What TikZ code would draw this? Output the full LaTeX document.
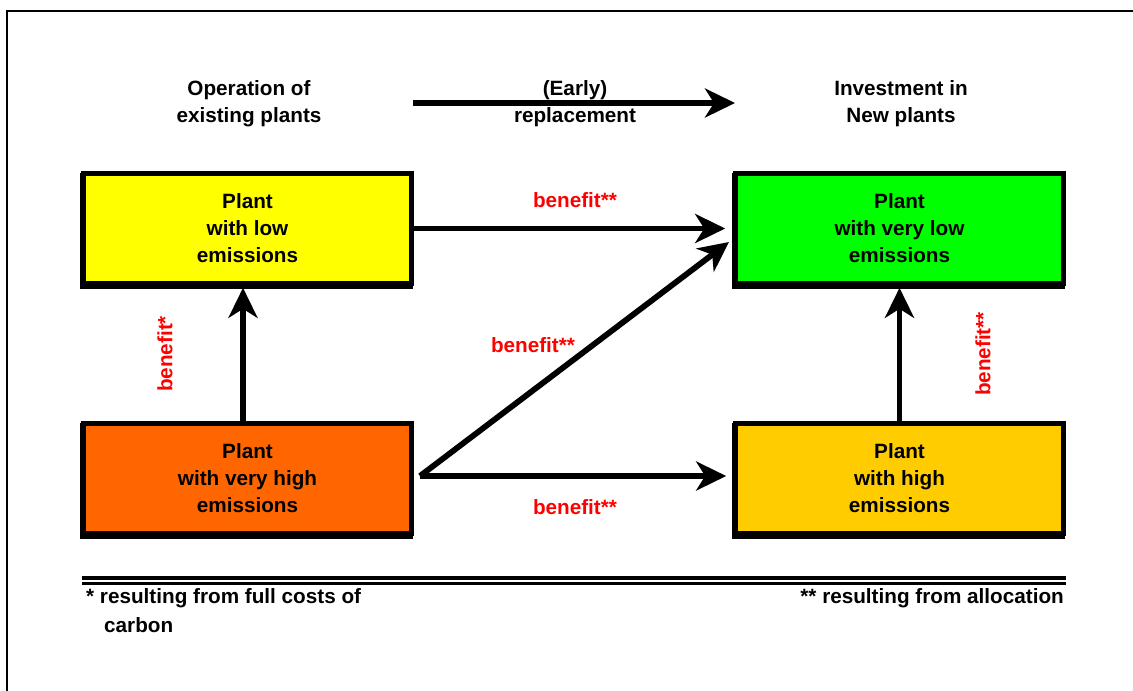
\documentclass[tikz,border=0pt]{standalone}
\usepackage{fontspec}
\setmainfont{Liberation Sans}
\usetikzlibrary{arrows.meta}
\definecolor{cyel}{HTML}{FFFF00}
\definecolor{corg}{HTML}{FF6600}
\definecolor{cgrn}{HTML}{00FF00}
\definecolor{cgld}{HTML}{FFCC00}
\definecolor{cred}{HTML}{FF0000}
\newcommand{\txtfont}{\bfseries\fontsize{20.7}{27}\selectfont}
\begin{document}
\begin{tikzpicture}[x=1pt,y=-1pt,
  plantbox/.style={draw=black,line width=4.6pt,minimum width=328pt,minimum height=110pt,inner sep=0pt,align=center,font=\txtfont},
  conn/.style={line width=5.8pt,-{Stealth[length=30pt,width=29pt,inset=9pt]}},
  lbl/.style={text=cred,font=\txtfont,inner sep=0pt},
  plain/.style={font=\txtfont,inner sep=0pt,align=center},
  frameline/.style={line width=2.6pt},
  shadowbox/.style={fill=black},
  ]
\useasboundingbox (0,0) rectangle (1133,691);
\fill[white] (0,0) rectangle (1133,691);
% frame
\draw[frameline] (7,691) -- (7,11) -- (1133,11);
% box shadows
\fill[shadowbox] (80,173) rectangle (413,289);
\fill[shadowbox] (80,423) rectangle (413,539);
\fill[shadowbox] (732,173) rectangle (1065,289);
\fill[shadowbox] (732,423) rectangle (1065,539);
\node[plantbox,fill=cyel] (yellow) at (247.5,228.5) {Plant\\with low\\emissions};
\node[plantbox,fill=corg] (orange) at (247.5,478.5) {Plant\\with very high\\emissions};
\node[plantbox,fill=cgrn] (green) at (899.5,228.5) {Plant\\with very low\\emissions};
\node[plantbox,fill=cgld] (gold) at (899.5,478.5) {Plant\\with high\\emissions};
% headers
\node[plain] (h1) at (249,103.5) {Operation of\\existing plants};
\node[plain] (h2) at (575,103.5) {(Early)\\replacement};
\node[plain] (h3) at (901,103.5) {Investment in\\New plants};
\coordinate (repA) at (413,103);
\coordinate (repB) at (735,103);
\draw[conn] (repA) -- (repB);
% connectors
\coordinate (src) at (420,476);
\coordinate (dtip) at (729,242);
\draw[conn] (yellow.east) -- ([xshift=-8pt]green.west);
\draw[conn] (src) -- (dtip);
\draw[conn] (src) -- (src -| gold.west) [shorten >=7pt];
\draw[conn] ([xshift=-4.5pt]orange.north) -- ([xshift=-4.5pt,yshift=-2pt]yellow.south);
\draw[conn] (gold.north) -- ([yshift=-2pt]green.south);
% labels
\node[lbl] (b1) at (575,200) {benefit**};
\node[lbl] (b2) at (533,345) {benefit**};
\node[lbl] (b3) at (575,507) {benefit**};
\node[lbl,rotate=90] (b4) at (165,354) {benefit*};
\node[lbl,rotate=90] (b5) at (983,354) {benefit**};
% double rule
\coordinate (rl1) at (82,578);
\coordinate (rr1) at (1066,578);
\coordinate (rl2) at (82,583.5);
\coordinate (rr2) at (1066,583.5);
\draw[line width=3.2pt] (rl1) -- (rr1);
\draw[line width=3.6pt] (rl2) -- (rr2);
% footnotes
\node[plain,anchor=west] (f1) at (86,598) {* resulting from full costs of};
\node[plain,anchor=west] (f2) at (104,625) {carbon};
\node[plain,anchor=east] (f3) at (1064,598) {** resulting from allocation};
\end{tikzpicture}
\end{document}
